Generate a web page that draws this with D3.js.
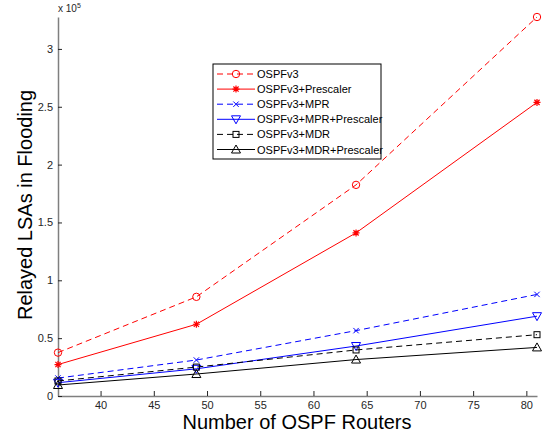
<!DOCTYPE html>
<html>
<head>
<meta charset="utf-8">
<script src="https://cdn.jsdelivr.net/npm/d3@7"></script>
<style>
  body { margin: 0; background: #fff; }
  text { font-family: "Liberation Sans", Arial, sans-serif; }
</style>
</head>
<body>
<div class="main"></div>
<script>
// routers on the x axis
var routers = [36, 49, 64, 81];
// relayed LSAs, in units of 10^5
var ospfv3          = [0.375, 0.857, 1.825, 3.276];
var ospfv3Pre       = [0.272, 0.620, 1.410, 2.538];
var ospfv3Mpr       = [0.155, 0.311, 0.565, 0.878];
var ospfv3MprPre    = [0.115, 0.235, 0.432, 0.690];
var ospfv3Mdr       = [0.130, 0.250, 0.398, 0.530];
var ospfv3MdrPre    = [0.095, 0.190, 0.315, 0.420];
var seriesNames = ["OSPFv3", "OSPFv3+Prescaler", "OSPFv3+MPR", "OSPFv3+MPR+Prescaler", "OSPFv3+MDR", "OSPFv3+MDR+Prescaler"];
var xTicks = [40, 45, 50, 55, 60, 65, 70, 75, 80];
var yTicks = [0, 0.5, 1, 1.5, 2, 2.5, 3];

const width = 552, height = 436;
const plot = {left: 58, right: 537, top: 17, bottom: 396};

var series = [
  {name: seriesNames[0], values: ospfv3,       color: "#ff0000", dash: "6,4", marker: "circle"},
  {name: seriesNames[1], values: ospfv3Pre,    color: "#ff0000", dash: null,  marker: "star"},
  {name: seriesNames[2], values: ospfv3Mpr,    color: "#0000ff", dash: "6,4", marker: "cross"},
  {name: seriesNames[3], values: ospfv3MprPre, color: "#0000ff", dash: null,  marker: "triDown"},
  {name: seriesNames[4], values: ospfv3Mdr,    color: "#000000", dash: "6,4", marker: "square"},
  {name: seriesNames[5], values: ospfv3MdrPre, color: "#000000", dash: null,  marker: "triUp"}
];

var svg = d3.select(".main").append("svg")
    .attr("width", width)
    .attr("height", height);

var x = d3.scaleLinear()
    .domain([d3.min(routers), d3.max(routers)])
    .range([plot.left, plot.right]);

var y = d3.scaleLinear()
    .domain([0, d3.max(ospfv3)])
    .range([plot.bottom, plot.top]);

//axes, ticks pointing inward like matlab
var xAxis = svg.append("g")
    .attr("transform", "translate(0," + plot.bottom + ")")
    .call(d3.axisBottom(x).tickValues(xTicks).tickSizeInner(-5).tickSizeOuter(0).tickPadding(5));

var yAxis = svg.append("g")
    .attr("transform", "translate(" + plot.left + ",0)")
    .call(d3.axisLeft(y).tickValues(yTicks).tickFormat(d3.format("~g")).tickSizeInner(-4).tickSizeOuter(0).tickPadding(5));

[xAxis, yAxis].forEach(function(a) {
  a.select(".domain").attr("stroke", "#7f7f7f").attr("stroke-width", 1.5);
  a.selectAll(".tick line").attr("stroke", "#262626");
  a.selectAll(".tick text")
      .attr("fill", "#262626")
      .style("font-size", "11px")
      .style("font-family", "'Liberation Sans', Arial, sans-serif");
});

//exponent label
var expo = svg.append("text")
    .attr("x", 58)
    .attr("y", 12)
    .style("font-size", "10px")
    .attr("fill", "#262626");
expo.append("tspan").text("x 10");
expo.append("tspan").attr("dy", -4).style("font-size", "7px").text("5");

//axis labels
svg.append("text")
    .attr("x", 297)
    .attr("y", 429)
    .attr("text-anchor", "middle")
    .style("font-size", "20px")
    .text("Number of OSPF Routers");

svg.append("text")
    .attr("transform", "translate(32,205) rotate(-90)")
    .attr("text-anchor", "middle")
    .style("font-size", "20px")
    .text("Relayed LSAs in Flooding");

function drawMarker(g, type, color) {
  if (type == "circle") {
    g.append("circle").attr("r", 3.7).attr("fill", "none").attr("stroke", color);
  } else if (type == "star") {
    g.append("path").attr("d", "M-3.5,0H3.5M0,-3.5V3.5M-2.6,-2.6L2.6,2.6M-2.6,2.6L2.6,-2.6").attr("stroke", color).attr("stroke-width", 1.2);
  } else if (type == "cross") {
    g.append("path").attr("d", "M-2.7,-2.7L2.7,2.7M-2.7,2.7L2.7,-2.7").attr("stroke", color);
  } else if (type == "triDown") {
    g.append("path").attr("d", "M-4.5,-3.5H4.5L0,4.5Z").attr("fill", "none").attr("stroke", color);
  } else if (type == "triUp") {
    g.append("path").attr("d", "M-4.5,3.5H4.5L0,-4.5Z").attr("fill", "none").attr("stroke", color);
  } else if (type == "square") {
    g.append("rect").attr("x", -3).attr("y", -3).attr("width", 6).attr("height", 6)
        .attr("fill", "none").attr("stroke", color);
  }
}

var line = d3.line()
    .x(function(d) { return x(d[0]); })
    .y(function(d) { return y(d[1]); });

series.forEach(function(s) {
  var pts = routers.map(function(r, i) { return [r, s.values[i]]; });
  svg.append("path")
      .datum(pts)
      .attr("d", line)
      .attr("fill", "none")
      .attr("stroke", s.color)
      .attr("stroke-width", 1)
      .attr("stroke-dasharray", s.dash);
  pts.forEach(function(p) {
    var g = svg.append("g").attr("transform", "translate(" + x(p[0]) + "," + y(p[1]) + ")");
    drawMarker(g, s.marker, s.color);
  });
});

//legend
var legend = svg.append("g").attr("transform", "translate(213,64)");
legend.append("rect")
    .attr("width", 168)
    .attr("height", 95)
    .attr("fill", "white")
    .attr("stroke", "black");

series.forEach(function(s, i) {
  var row = legend.append("g").attr("transform", "translate(0," + (10 + i * 15.1) + ")");
  row.append("line")
      .attr("x1", 4).attr("x2", 42)
      .attr("stroke", s.color)
      .attr("stroke-dasharray", s.dash);
  drawMarker(row.append("g").attr("transform", "translate(23,0)"), s.marker, s.color);
  row.append("text")
      .attr("x", 44)
      .attr("y", 4)
      .style("font-size", "11px")
      .text(s.name);
});
</script>
</body>
</html>
